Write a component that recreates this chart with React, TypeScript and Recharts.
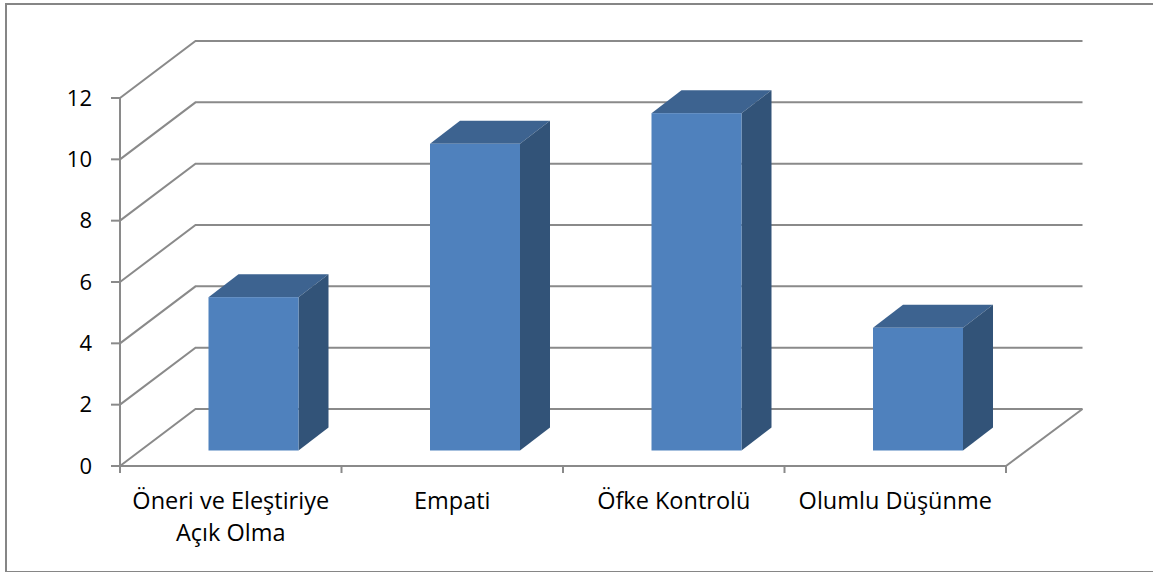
import { BarChart, Bar, XAxis, YAxis, CartesianGrid } from "recharts";

const categories = ["Öneri ve Eleştiriye\nAçık Olma", "Empati", "Öfke Kontrolü", "Olumlu Düşünme"];
const values = [5, 10, 11, 4];
const yTicks = [0, 2, 4, 6, 8, 10, 12];

const data = categories.map((name, i) => ({ name, value: values[i] }));

const FONT = "'Open Sans', sans-serif";
const GRID = "#8a8a8a";
// 3D look: how far the back wall sits from the front of the plot
const WALL_DX = 75.5;
const WALL_DY = -57;
// bars stand in the middle of the floor, and have their own depth
const BAR_DX = 22.5;
const BAR_DY = -15.5;
const DEPTH_X = 30;
const DEPTH_Y = -23;

function WallLine(props: any) {
  const { x1, y1, x2, y, height } = props;
  const wx = x1 + WALL_DX;
  const wy = y1 + WALL_DY;
  const isFloor = Math.abs(y1 - (y + height)) < 0.5;
  return (
    <g fill="none" stroke={GRID} strokeWidth={2}>
      <polyline points={`${x1},${y1} ${wx},${wy} ${x2 + WALL_DX + 1},${wy}`} />
      {isFloor && <line x1={x2} y1={y1} x2={x2 + WALL_DX + 1} y2={wy} />}
    </g>
  );
}

function Bar3D(props: any) {
  const { x, y, width, height } = props;
  const l = x + BAR_DX;
  const r = l + width;
  const t = y + BAR_DY;
  const b = t + height;
  return (
    <g>
      <polygon points={`${l},${t} ${l + DEPTH_X},${t + DEPTH_Y} ${r + DEPTH_X},${t + DEPTH_Y} ${r},${t}`} fill="#3D6390" />
      <polygon points={`${r},${t} ${r + DEPTH_X},${t + DEPTH_Y} ${r + DEPTH_X},${b + DEPTH_Y} ${r},${b}`} fill="#325378" />
      <rect x={l} y={t} width={width} height={height} fill="#4F81BD" />
    </g>
  );
}

function CategoryTick(props: any) {
  const { x, y, payload, index } = props;
  const half = payload.offset ?? 0;
  const lines = String(payload.value).split("\n");
  return (
    <g>
      <line x1={x + half} y1={y - 1} x2={x + half} y2={y + 7} stroke={GRID} strokeWidth={2} />
      {index === 0 && <line x1={x - half} y1={y - 1} x2={x - half} y2={y + 7} stroke={GRID} strokeWidth={2} />}
      {lines.map((line, i) => (
        <text key={line} x={x} y={y + 43 + i * 32} textAnchor="middle" fontFamily={FONT} fontSize={23.5} fill="#000">
          {line}
        </text>
      ))}
    </g>
  );
}

export default function App() {
  return (
    <div style={{ position: "absolute", left: 0, top: 0, width: 1153, height: 572, background: "#fff" }}>
      <div
        style={{
          position: "absolute",
          left: 5,
          top: 3,
          right: 0,
          height: 566,
          borderLeft: "2px solid #868686",
          borderTop: "2px solid #868686",
          borderBottom: "2px solid #868686",
        }}
      />
      <div style={{ position: "absolute", left: 0, top: 0 }}>
        <BarChart width={1153} height={572} data={data} margin={{ top: 98, right: 147, bottom: 0, left: 60 }} barSize={90}>
          <CartesianGrid horizontal={(p: any) => <WallLine {...p} />} vertical={false} />
          <XAxis
            dataKey="name"
            interval={0}
            tick={(p: any) => <CategoryTick {...p} />}
            tickLine={false}
            tickSize={0}
            tickMargin={0}
            axisLine={{ stroke: GRID, strokeWidth: 2 }}
            height={106}
          />
          <YAxis
            domain={[0, 12]}
            ticks={yTicks}
            interval={0}
            width={60}
            tickSize={9}
            tickMargin={19}
            tick={{ fontFamily: FONT, fontSize: 22, fill: "#000" }}
            tickLine={{ stroke: GRID, strokeWidth: 2 }}
            axisLine={{ stroke: GRID, strokeWidth: 2 }}
          />
          <Bar dataKey="value" shape={(p: any) => <Bar3D {...p} />} isAnimationActive={false} />
        </BarChart>
      </div>
    </div>
  );
}
